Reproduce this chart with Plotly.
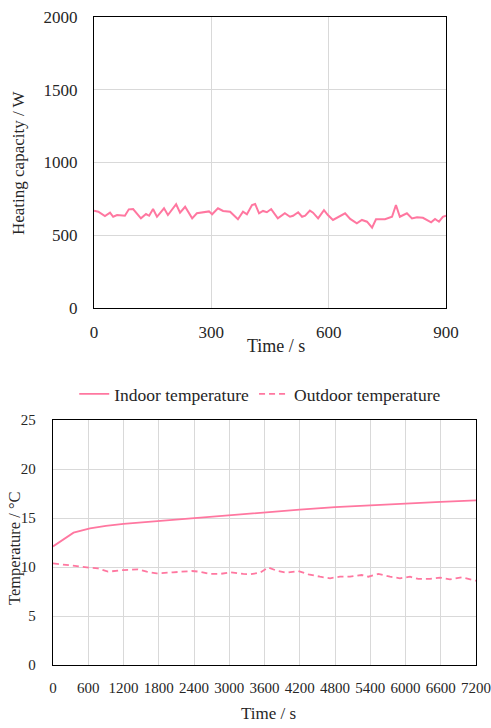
import plotly.graph_objects as go

# ---- Top chart: heating capacity ----
hc_time = [0, 11, 28, 41, 49, 59, 79, 89, 100, 120, 133, 141, 151, 161, 179, 189, 210, 220, 233, 251,
           263, 284, 294, 302, 317, 330, 348, 368, 381, 391, 404, 412, 422, 432, 442, 453, 470, 488,
           501, 509, 522, 532, 540, 552, 560, 573, 588, 598, 611, 642, 655, 672, 685, 698, 711, 721,
           744, 762, 772, 782, 800, 813, 826, 841, 862, 872, 882, 892, 900]
hc_value = [669, 662, 632, 655, 627, 639, 634, 678, 680, 616, 646, 634, 680, 627, 685, 639, 713, 655, 696, 616,
            651, 662, 664, 644, 685, 667, 662, 610, 662, 644, 708, 715, 651, 667, 658, 680, 616, 651,
            627, 634, 658, 627, 634, 669, 655, 616, 673, 639, 605, 651, 612, 582, 605, 593, 552, 610,
            610, 627, 708, 627, 651, 616, 623, 620, 589, 612, 593, 627, 634]
hc_xticks = [0, 300, 600, 900]
hc_yticks = [0, 500, 1000, 1500, 2000]

# ---- Bottom chart: temperatures ----
in_time = [0, 120, 240, 350, 630, 900, 1200, 1800, 2400, 3000, 3600, 4200, 4800, 5400, 6000, 6600, 7200]
in_temp = [12.1, 12.6, 13.1, 13.5, 13.95, 14.2, 14.4, 14.7, 15.0, 15.3, 15.6, 15.85, 16.1, 16.3, 16.5, 16.65, 16.8]
out_time = [0, 345, 630, 766, 936, 1191, 1447, 1595, 1765, 2043, 2360, 2502, 2672, 2843, 3013, 3239, 3353,
            3523, 3665, 3808, 3978, 4175, 4346, 4545, 4715, 4885, 5055, 5254, 5367, 5537, 5736, 5906,
            6077, 6218, 6417, 6587, 6757, 6957, 7154, 7200]
out_temp = [10.37, 10.1, 9.93, 9.86, 9.52, 9.69, 9.76, 9.52, 9.35, 9.46, 9.59, 9.52, 9.29, 9.29, 9.46, 9.29, 9.25,
            9.42, 9.95, 9.62, 9.42, 9.59, 9.25, 9.01, 8.85, 9.01, 9.01, 9.18, 9.01, 9.29, 9.01, 8.85,
            9.01, 8.78, 8.78, 8.91, 8.74, 8.95, 8.67, 8.6]
t_xticks = list(range(0, 7201, 600))
t_yticks = [0, 5, 10, 15, 20, 25]

W, H = 491, 728
PINK = "#FF77A0"
FONT = "Liberation Serif"
TXT = "#262626"
GRID = "#D9D9D9"

def px_x(p):
    return p / W

def px_y(p):
    return 1 - p / H

def tf(size):
    return dict(size=size, family=FONT, color=TXT)

fig = go.Figure()
fig.add_trace(go.Scatter(x=hc_time, y=hc_value, mode="lines", line=dict(color=PINK, width=2),
                         xaxis="x", yaxis="y", showlegend=False))
fig.add_trace(go.Scatter(x=in_time, y=in_temp, mode="lines", line=dict(color=PINK, width=1.8),
                         name="Indoor temperature", xaxis="x2", yaxis="y2"))
fig.add_trace(go.Scatter(x=out_time, y=out_temp, mode="lines",
                         line=dict(color=PINK, width=1.8, dash="6px,4px"),
                         name="Outdoor temperature", xaxis="x2", yaxis="y2"))

axis_common = dict(showline=True, linecolor="#000000", linewidth=1.3, mirror=True,
                   showgrid=True, gridcolor=GRID, gridwidth=1, zeroline=False, ticks="",
                   automargin=False)

def ann(text, x, y, size, angle=0):
    return dict(text=text, x=px_x(x), y=px_y(y), xref="paper", yref="paper",
                xanchor="center", yanchor="middle", textangle=angle, showarrow=False,
                font=tf(size))

fig.update_layout(
    width=W, height=H, margin=dict(l=0, r=0, t=0, b=0),
    paper_bgcolor="white", plot_bgcolor="white",
    font=dict(family=FONT, color=TXT),
    xaxis=dict(domain=[px_x(94), px_x(446)], range=[0, 900], tickvals=hc_xticks,
               tickfont=tf(17), ticklabelstandoff=8, anchor="y", **axis_common),
    yaxis=dict(domain=[px_y(308), px_y(17)], range=[0, 2000], tickvals=hc_yticks,
               tickfont=tf(17), ticklabelstandoff=12, anchor="x", **axis_common),
    xaxis2=dict(domain=[px_x(53), px_x(476)], range=[0, 7200], tickvals=t_xticks,
                tickfont=tf(15), ticklabelstandoff=9, anchor="y2", **axis_common),
    yaxis2=dict(domain=[px_y(665), px_y(420)], range=[0, 25], tickvals=t_yticks,
                tickfont=tf(15), ticklabelstandoff=13, anchor="x2", **axis_common),
    legend=dict(orientation="h", x=0.53, xanchor="center", y=px_y(394), yanchor="middle",
                font=tf(17.5), bgcolor="rgba(0,0,0,0)", itemwidth=30),
    annotations=[
        ann("Heating capacity / W", 18, 163, 17, -90),
        ann("Time / s", 276, 346, 18),
        ann("Temperature / °C", 14, 548, 16.5, -90),
        ann("Time / s", 268, 713, 17),
    ],
)

fig.write_html("out.html")
